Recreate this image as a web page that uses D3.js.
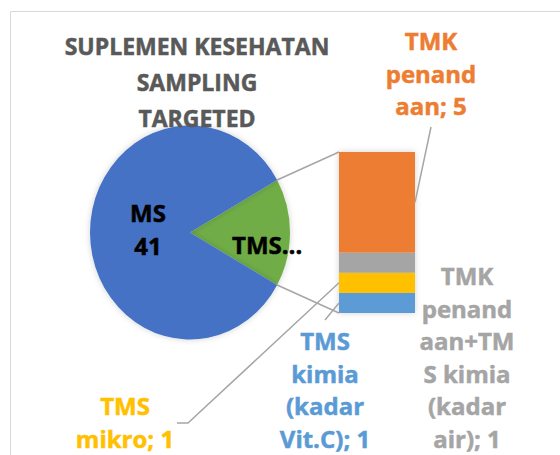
<!DOCTYPE html>
<meta charset="utf-8">
<style>
body { margin: 0; background: #fff; }
text { font-family: "Open Sans", sans-serif; font-weight: bold; stroke-width: 0.5px; }
</style>
<body>
<script src="https://d3js.org/d3.v7.min.js"></script>
<script>

// pie part
var pieShort = ["MS", "TMS…"];
var msValue = 41;

// bar part (bottom to top)
var subNames = ["TMS kimia (kadar Vit.C)", "TMS mikro", "TMK penandaan+TMS kimia (kadar air)", "TMK penandaan"];
var subValues = [1, 1, 1, 5];
var subLines = [
  ["TMS", "kimia", "(kadar", "Vit.C); 1"],
  ["TMS", "mikro; 1"],
  ["TMK", "penand", "aan+TM", "S kimia", "(kadar", "air); 1"],
  ["TMK", "penand", "aan; 5"]
];
var titleLines = ["SUPLEMEN KESEHATAN", "SAMPLING", "TARGETED"];

var mainColors = ["#70AD47", "#4472C4"];
var subColors = ["#5B9BD5", "#FFC000", "#A5A5A5", "#ED7D31"];

var W = 560, H = 455;
var svg = d3.select("body").append("svg").attr("width", W).attr("height", H);

var defs = svg.append("defs");
var f = defs.append("filter").attr("id", "sh").attr("x", "-20%").attr("y", "-20%").attr("width", "140%").attr("height", "140%");
f.append("feDropShadow").attr("dx", 0).attr("dy", 0).attr("stdDeviation", 3).attr("flood-color", "#000").attr("flood-opacity", 0.18);

// frame
svg.append("path").attr("d", "M10.5," + H + "V11.5H" + W)
  .attr("fill", "none").attr("stroke", "#d9d9d9").attr("stroke-width", 1);

var others = d3.sum(subValues);
var total = msValue + others;

// pie geometry (slightly taller than wide, as in reference)
var cx = 190, cy = 232.5, R = 100, sy = 1.07;
var otherAngle = others / total * 2 * Math.PI;
var pie = d3.pie().sort(null).startAngle(Math.PI / 2 - otherAngle / 2).endAngle(Math.PI / 2 - otherAngle / 2 + 2 * Math.PI);
var arcs = pie([others, msValue]);
var arc = d3.arc().innerRadius(0).outerRadius(R);

var pg = svg.append("g").attr("transform", "translate(" + cx + "," + cy + ") scale(1," + sy + ")");
pg.selectAll("path").data(arcs).join("path")
  .attr("d", arc)
  .attr("fill", (d, i) => mainColors[i])
  .attr("filter", "url(#sh)");

// bar
var barX = 339, barW = 76;
var y = d3.scaleLinear().domain([0, others]).range([313, 152]);
var cum = d3.cumsum(subValues);
var segs = subValues.map((v, i) => ({v: v, y0: cum[i] - v, y1: cum[i], i: i}));

svg.append("g").attr("filter", "url(#sh)")
  .selectAll("rect").data(segs).join("rect")
  .attr("x", barX).attr("width", barW)
  .attr("y", d => y(d.y1)).attr("height", d => y(d.y0) - y(d.y1))
  .attr("fill", d => subColors[d.i]);

// connector lines from slice edge to bar
function edgePt(a) { return [cx + R * Math.sin(a), cy - R * Math.cos(a) * sy]; }
var pTop = edgePt(arcs[0].startAngle), pBot = edgePt(arcs[0].endAngle);
var lc = "#a6a6a6";
svg.append("line").attr("x1", pTop[0]).attr("y1", pTop[1]).attr("x2", barX).attr("y2", y(others))
  .attr("stroke", lc).attr("stroke-width", 1.5);
svg.append("line").attr("x1", pBot[0]).attr("y1", pBot[1]).attr("x2", barX).attr("y2", y(0))
  .attr("stroke", lc).attr("stroke-width", 1.5);

// title
svg.append("text").attr("x", 197).attr("y", 55).attr("text-anchor", "middle")
  .attr("fill", "#595959").attr("stroke", "#595959").style("font-size", "23px")
  .selectAll("tspan").data(titleLines).join("tspan")
  .attr("x", 197).attr("dy", (d, i) => i ? 36 : 0).text(d => d);

// pie labels
var msC = [cx - 42, cy];
svg.append("text").attr("x", msC[0]).attr("y", 222).attr("text-anchor", "middle")
  .attr("fill", "#000").attr("stroke", "#000").style("font-size", "24px")
  .selectAll("tspan").data([pieShort[0], msValue]).join("tspan")
  .attr("x", msC[0]).attr("dy", (d, i) => i ? 33 : 0).text(d => d);
svg.append("text").attr("x", 232).attr("y", 254)
  .attr("fill", "#000").attr("stroke", "#000").style("font-size", "24px").text(pieShort[1]);

// sub labels
var lab = [
  {x: 325, y: 350, lead: [[325, 320], [barX, y(0.5)]]},
  {x: 125, y: 415, lead: [[177, 423], [188, 423], [barX, y(1.5)]]},
  {x: 467, y: 285, lead: null},
  {x: 431, y: 50, lead: [[431, 127], [barX + barW, y(5.5)]]}
];
lab.forEach(function (L, i) {
  if (L.lead) {
    svg.append("path").attr("d", d3.line()(L.lead)).attr("fill", "none")
      .attr("stroke", lc).attr("stroke-width", 1.5);
  }
  svg.append("text").attr("x", L.x).attr("y", L.y).attr("text-anchor", "middle")
    .attr("fill", subColors[i]).attr("stroke", subColors[i]).style("font-size", "24px")
    .selectAll("tspan").data(subLines[i]).join("tspan")
    .attr("x", L.x).attr("dy", (d, j) => j ? 32.5 : 0).text(d => d);
});
</script>
</body>
